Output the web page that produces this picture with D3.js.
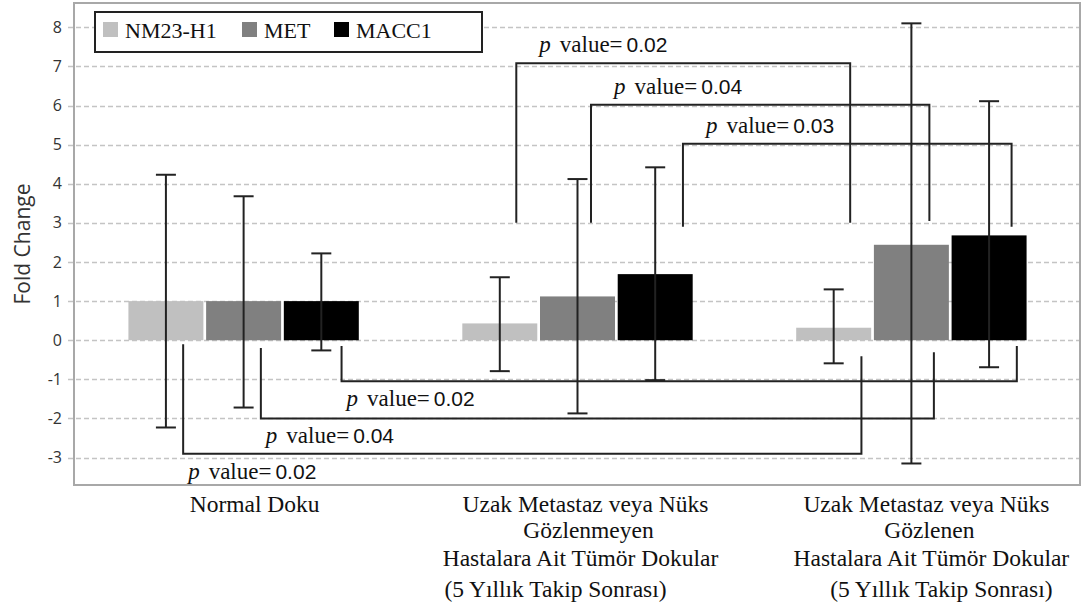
<!DOCTYPE html>
<html>
<head>
<meta charset="utf-8">
<script src="https://d3js.org/d3.v7.min.js"></script>
<style>
  body { margin: 0; background: #fff; }
  .serif { font-family: "Liberation Serif", "Times New Roman", serif; }
  .sans { font-family: "Liberation Sans", Arial, sans-serif; }
</style>
</head>
<body>
<div id="chart"></div>
<script>
// chart data
var groupLabels = [
    ["Normal Doku"],
    ["Uzak Metastaz veya Nüks", "Gözlenmeyen", "Hastalara Ait Tümör Dokular", "(5 Yıllık Takip Sonrası)"],
    ["Uzak Metastaz veya Nüks", "Gözlenen", "Hastalara Ait Tümör Dokular", "(5 Yıllık Takip Sonrası)"]
];
var series = ["NM23-H1", "MET", "MACC1"];

var nm23Values = [1.0, 0.43, 0.32];
var metValues = [1.0, 1.12, 2.44];
var macc1Values = [1.0, 1.69, 2.68];

var nm23Upper = [4.23, 1.61, 1.30];
var nm23Lower = [-2.23, -0.79, -0.59];
var metUpper = [3.68, 4.12, 8.10];
var metLower = [-1.72, -1.87, -3.15];
var macc1Upper = [2.22, 4.42, 6.11];
var macc1Lower = [-0.26, -1.02, -0.69];

var yTicks = [-3, -2, -1, 0, 1, 2, 3, 4, 5, 6, 7, 8];

// significance brackets (group indexes, bracket level, where the legs stop)
var topBrackets = [
    { series: "NM23-H1", from: 1, to: 2, level: 7.08, ends: [3.0, 3.0], p: "0.02" },
    { series: "MET", from: 1, to: 2, level: 6.02, ends: [3.0, 3.05], p: "0.04" },
    { series: "MACC1", from: 1, to: 2, level: 5.02, ends: [2.9, 2.9], p: "0.03" }
];
var bottomBrackets = [
    { series: "MACC1", from: 0, to: 2, level: -1.05, ends: [-0.15, -0.15], p: "0.02" },
    { series: "MET", from: 0, to: 2, level: -2.0, ends: [-0.2, -0.31], p: "0.04" },
    { series: "NM23-H1", from: 0, to: 2, level: -2.9, ends: [-0.1, -0.41], p: "0.02" }
];

var colors = { "NM23-H1": "#c0c0c0", "MET": "#808080", "MACC1": "#000000" };

// rows for the bars
var rows = groupLabels.map(function (g, i) {
    return {
        group: i,
        bars: [
            { key: "NM23-H1", value: nm23Values[i], hi: nm23Upper[i], lo: nm23Lower[i] },
            { key: "MET", value: metValues[i], hi: metUpper[i], lo: metLower[i] },
            { key: "MACC1", value: macc1Values[i], hi: macc1Upper[i], lo: macc1Lower[i] }
        ]
    };
});

var W = 1088, H = 613;
var plot = { left: 75, top: 3, right: 1080, bottom: 485 };

var svg = d3.select("#chart")
    .append("svg")
    .attr("width", W)
    .attr("height", H);

// scales
var x0 = d3.scaleBand()
    .domain([0, 1, 2])
    .range([plot.left, plot.right])
    .paddingInner(0.31)
    .paddingOuter(0.16);

var x1 = d3.scaleBand()
    .domain(series)
    .range([0, x0.bandwidth()])
    .paddingInner(0.035);

var y = d3.scaleLinear()
    .domain([-3.7, 8.62])
    .range([plot.bottom, plot.top]);

// gridlines
svg.append("g")
    .selectAll("line")
    .data(yTicks)
    .enter()
    .append("line")
    .attr("x1", plot.left - 7)
    .attr("x2", plot.right)
    .attr("y1", function (d) { return Math.round(y(d)) + 0.5 })
    .attr("y2", function (d) { return Math.round(y(d)) + 0.5 })
    .attr("stroke", "#c4c4c4")
    .attr("stroke-width", 1.3)
    .attr("stroke-dasharray", "5,3");

// y axis labels
var yAxis = d3.axisLeft(y)
    .tickValues(yTicks)
    .tickSize(0)
    .tickPadding(13)
    .tickFormat(function (d) { return String(d) });
svg.append("g")
    .attr("transform", "translate(" + plot.left + ",0)")
    .call(yAxis)
    .call(function (g) { g.select(".domain").remove() })
    .selectAll("text")
    .attr("font-family", "'Open Sans', sans-serif")
    .attr("font-size", "16px")
    .attr("fill", "#333");

svg.append("text")
    .attr("transform", "translate(22,244) rotate(-90)")
    .attr("text-anchor", "middle")
    .attr("dominant-baseline", "central")
    .attr("font-family", "'Open Sans', sans-serif")
    .attr("font-size", "21px")
    .attr("fill", "#333")
    .text("Fold Change");

// bars
var groupsG = svg.append("g")
    .selectAll("g")
    .data(rows)
    .enter()
    .append("g")
    .attr("transform", function (d) { return "translate(" + x0(d.group) + ",0)" });

groupsG.selectAll("rect")
    .data(function (d) { return d.bars })
    .enter()
    .append("rect")
    .attr("x", function (d) { return x1(d.key) })
    .attr("y", function (d) { return y(d.value) })
    .attr("width", x1.bandwidth())
    .attr("height", function (d) { return y(0) - y(d.value) })
    .attr("fill", function (d) { return colors[d.key] });

// error bars
var errG = groupsG.selectAll("g.err")
    .data(function (d) { return d.bars })
    .enter()
    .append("g")
    .attr("class", "err")
    .attr("stroke", "#222")
    .attr("stroke-width", 2);

errG.append("line")
    .attr("x1", function (d) { return x1(d.key) + x1.bandwidth() / 2 })
    .attr("x2", function (d) { return x1(d.key) + x1.bandwidth() / 2 })
    .attr("y1", function (d) { return y(d.hi) })
    .attr("y2", function (d) { return y(d.lo) });
errG.append("line")
    .attr("x1", function (d) { return x1(d.key) + x1.bandwidth() / 2 - 10 })
    .attr("x2", function (d) { return x1(d.key) + x1.bandwidth() / 2 + 10 })
    .attr("y1", function (d) { return y(d.hi) })
    .attr("y2", function (d) { return y(d.hi) });
errG.append("line")
    .attr("x1", function (d) { return x1(d.key) + x1.bandwidth() / 2 - 10 })
    .attr("x2", function (d) { return x1(d.key) + x1.bandwidth() / 2 + 10 })
    .attr("y1", function (d) { return y(d.lo) })
    .attr("y2", function (d) { return y(d.lo) });

// brackets
var topOffsets = [[0.72, 0.72], [0.68, 0.74], [0.87, 0.8]];
var bottomOffsets = [[0.77, 0.87], [0.73, 0.8], [0.73, 0.87]];

function legX(b, which, frac) {
    var g = which === 0 ? b.from : b.to;
    return x0(g) + x1(b.series) + x1.bandwidth() * frac;
}

function drawBrackets(list, offsets, labelDx, labelDy) {
    var g = svg.append("g");
    list.forEach(function (b, i) {
        var xa = legX(b, 0, offsets[i][0]);
        var xb = legX(b, 1, offsets[i][1]);
        g.append("path")
            .attr("d", "M" + xa + "," + y(b.ends[0]) + "V" + y(b.level) + "H" + xb + "V" + y(b.ends[1]))
            .attr("fill", "none")
            .attr("stroke", "#222")
            .attr("stroke-width", 2);

        var t = g.append("text")
            .attr("x", xa + labelDx)
            .attr("y", y(b.level) + labelDy)
            .attr("font-size", "23px")
            .attr("fill", "#111");
        t.append("tspan")
            .attr("class", "serif")
            .attr("font-style", "italic")
            .text("p");
        t.append("tspan")
            .attr("dx", 9)
            .attr("class", "serif")
            .text("value=");
        t.append("tspan")
            .attr("dx", 4)
            .attr("class", "sans")
            .attr("font-size", "21px")
            .text(b.p);

        var bb = t.node().getBBox();
        g.insert("rect", "text:last-of-type")
            .attr("x", bb.x - 2)
            .attr("y", bb.y + 2)
            .attr("width", bb.width + 4)
            .attr("height", bb.height - 2)
            .attr("fill", "#fff");
    });
}
drawBrackets(topBrackets, topOffsets, 23, -11);
drawBrackets(bottomBrackets, bottomOffsets, 5, 25);

// frame
svg.append("rect")
    .attr("x", plot.left - 1)
    .attr("y", plot.top)
    .attr("width", plot.right - plot.left + 1)
    .attr("height", plot.bottom - plot.top)
    .attr("fill", "none")
    .attr("stroke", "#a8a8a8")
    .attr("stroke-width", 2);

// x labels
var labelShift = [[11], [8, 11, 3, -22], [15, 18, 20, 30]];
var lineY = [512, 538, 566, 597];
var xl = svg.append("g")
    .attr("class", "serif")
    .attr("font-size", "23.5px")
    .attr("fill", "#111")
    .attr("text-anchor", "middle");
groupLabels.forEach(function (lines, gi) {
    lines.forEach(function (line, li) {
        xl.append("text")
            .attr("x", x0(gi) + x0.bandwidth() / 2 + labelShift[gi][li])
            .attr("y", lineY[li])
            .text(line);
    });
});

// legend
var legend = svg.append("g");
legend.append("rect")
    .attr("x", 95)
    .attr("y", 12)
    .attr("width", 387)
    .attr("height", 40)
    .attr("fill", "#fff")
    .attr("stroke", "#222")
    .attr("stroke-width", 2);

var legendX = [103, 242, 334];
series.forEach(function (s, i) {
    legend.append("rect")
        .attr("x", legendX[i])
        .attr("y", 22)
        .attr("width", 15)
        .attr("height", 15)
        .attr("fill", colors[s]);
    legend.append("text")
        .attr("x", legendX[i] + 22)
        .attr("y", 38)
        .attr("class", "serif")
        .attr("font-size", "22px")
        .attr("fill", "#111")
        .text(s);
});
</script>
</body>
</html>
